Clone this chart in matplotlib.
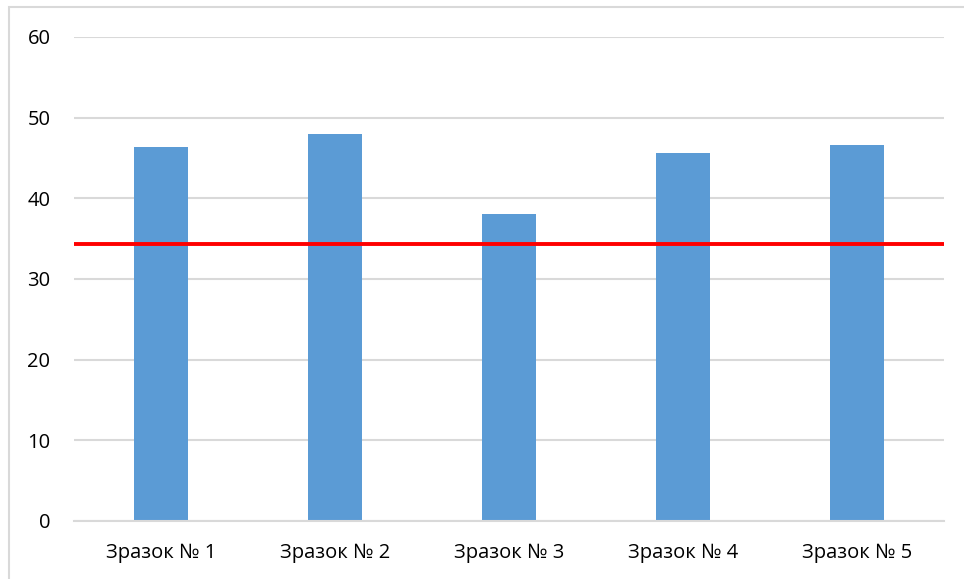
import matplotlib
matplotlib.use("Agg")
import matplotlib.pyplot as plt
from matplotlib.patches import Rectangle

categories = ["Зразок № 1", "Зразок № 2", "Зразок № 3", "Зразок № 4", "Зразок № 5"]
values = [46.4, 48.0, 38.0, 45.6, 46.6]
threshold = 34.3
y_ticks = [0, 10, 20, 30, 40, 50, 60]

W, H = 964, 579
fig = plt.figure(figsize=(W / 100, H / 100), dpi=100)
plt.rcParams["font.family"] = ["Open Sans", "DejaVu Sans"]

# chart frame (runs off the right and bottom edges)
fig.patches.append(Rectangle((9 / W, -0.1), 1.1, 1.1 - 7 / H, transform=fig.transFigure,
                             fill=False, edgecolor="#d9d9d9", linewidth=1.5))

ax = fig.add_axes([74 / W, 1 - 521 / H, (944 - 74) / W, (521 - 37) / H])
x = list(range(len(categories)))
ax.bar(x, values, width=0.31, color="#5b9bd5", zorder=2)
ax.axhline(threshold, color="#ff0000", linewidth=2.8, zorder=3)

ax.set_xlim(-0.5, len(categories) - 0.5)
ax.set_ylim(0, 60)
ax.set_yticks(y_ticks)
ax.set_xticks(x)
ax.set_xticklabels(categories)
ax.yaxis.grid(True, color="#d9d9d9", linewidth=1.5, zorder=0)
ax.set_axisbelow(True)
for side in ["top", "right", "left"]:
    ax.spines[side].set_visible(False)
ax.spines["bottom"].set_color("#d9d9d9")
ax.spines["bottom"].set_linewidth(1.5)
ax.tick_params(axis="y", length=0, labelsize=14.5, colors="#000000", pad=17)
ax.tick_params(axis="x", length=0, labelsize=14.5, colors="#000000", pad=16)

fig.savefig("out.png", dpi=100, facecolor="white")
